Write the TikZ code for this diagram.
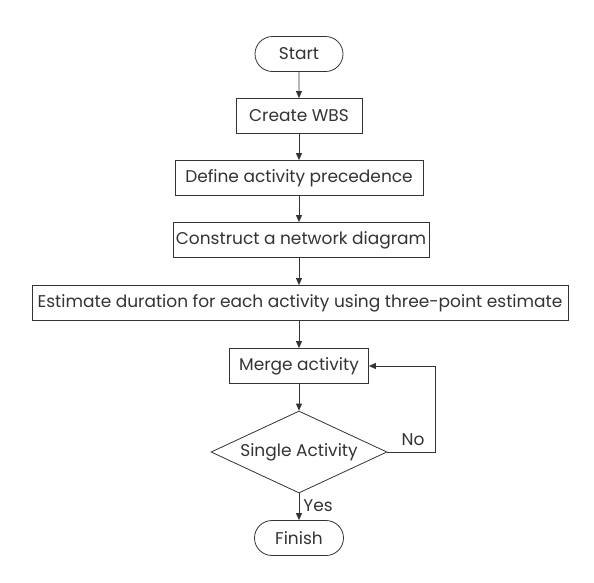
\documentclass[tikz,border=0pt]{standalone}
\usepackage{fontspec}
\setmainfont{Poppins}
\usetikzlibrary{shapes.geometric,shapes.misc,arrows.meta}
\tikzset{
  x=1pt,y=-1pt,
  every node/.style={font=\fontsize{17}{19}\selectfont, text=black!80},
  base/.style={draw=black!80, line width=0.8pt, inner sep=0pt},
  procbox/.style={base, rectangle, minimum height=35pt},
  term/.style={base, rounded rectangle, minimum height=35pt, minimum width=88pt},
  decision/.style={base, diamond, minimum width=176pt, minimum height=82pt, aspect=2.15},
  flow/.style={draw=black!80, line width=0.8pt, -{Triangle[length=7pt,width=6pt]}},
  lbl/.style={inner sep=1pt}
}
\begin{document}
\begin{tikzpicture}
\useasboundingbox (0,0) rectangle (594,582);
\node[term] (start) at (299,54) {Start};
\node[procbox, minimum width=126pt] (wbs) at (299,116) {Create WBS};
\node[procbox, minimum width=248pt] (prec) at (299,178) {Define activity precedence};
\node[procbox, minimum width=256pt] (net) at (301,240) {Construct a network diagram};
\node[procbox, minimum width=536pt] (est) at (300,303) {Estimate duration for each activity using three-point estimate};
\node[procbox, minimum width=139pt] (merge) at (299,366) {Merge activity};
\node[decision] (dec) at (299,452) {Single Activity};
\node[term, minimum width=89pt] (fin) at (299,538) {Finish};
\coordinate (loopc) at (435,452);
\coordinate (loopt) at (435,366);
\draw[flow] (start) -- (wbs);
\draw[flow] (wbs) -- (prec);
\draw[flow] (prec) -- (net.north -| prec.south);
\draw[flow] (net.south -| prec.south) -- (est.north -| prec.south);
\draw[flow] (est.south -| merge.north) -- (merge);
\draw[flow] (merge) -- (dec);
\draw[flow] (dec.south) -- (fin.north) node[lbl, pos=0.45, right=3pt] {Yes};
\draw[flow] (dec.east) -- (loopc) -- (loopt) -- (merge.east);
\node[lbl] (no) at (413,440) {No};
\end{tikzpicture}
\end{document}
